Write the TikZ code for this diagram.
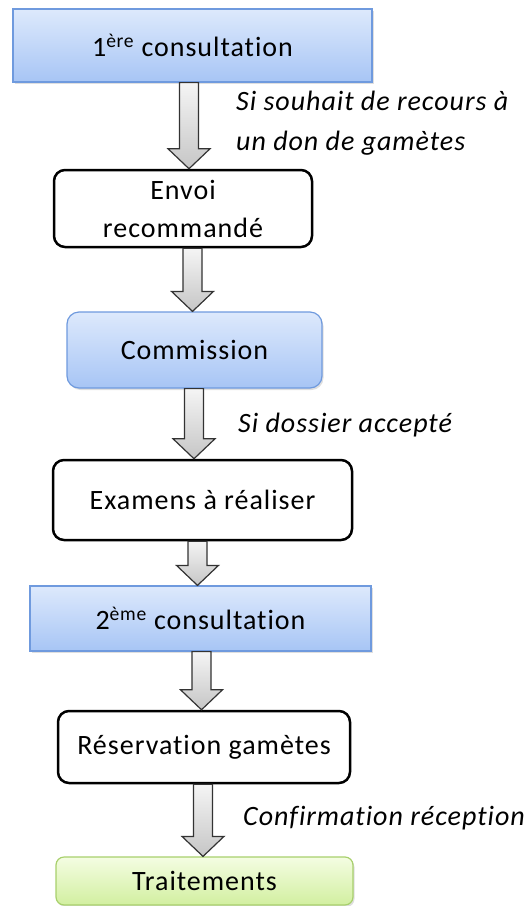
\documentclass[tikz,border=0pt]{standalone}
\usepackage{fontspec}
\setmainfont{Carlito}[Ligatures=NoCommon, LetterSpace=3.5]
\usetikzlibrary{calc,shadows}
\definecolor{bluetop}{HTML}{DDE9FC}
\definecolor{bluebot}{HTML}{A7C5F5}
\definecolor{blueedge}{HTML}{6F9ADE}
\definecolor{greentop}{HTML}{F4FDE2}
\definecolor{greenbot}{HTML}{D2EFA0}
\definecolor{greenedge}{HTML}{A8D06C}
\newcommand\garrow[3]{%
  \path[garrowstyle] let \p1=(#1.south), \p2=(#2.north) in
    (#3pt-9.5pt,\y1) -- (#3pt+9.5pt,\y1) -- (#3pt+9.5pt,\y2+20pt) -- (#3pt+21pt,\y2+20pt)
    -- (#3pt,\y2) -- (#3pt-21pt,\y2+20pt) -- (#3pt-9.5pt,\y2+20pt) -- cycle;}
\tikzset{
  every node/.style={font=\fontsize{28}{38}\selectfont, inner sep=0pt, align=center},
  shad/.style={drop shadow={opacity=0.25, shadow xshift=1.5pt, shadow yshift=-2pt}},
  bluebox/.style={draw=blueedge, line width=1.2pt, top color=bluetop, bottom color=bluebot, shad},
  greenbox/.style={draw=greenedge, line width=1.2pt, top color=greentop, bottom color=greenbot, rounded corners=8pt, shad},
  blackbox/.style={draw=black, line width=2.5pt, fill=white, rounded corners=11pt},
  lbl/.style={anchor=west, align=left, font=\fontsize{28}{40}\selectfont\itshape},
  garrowstyle/.style={draw=black!80, line width=1.2pt, top color=gray!8, bottom color=gray!45, line join=miter}
}
\begin{document}
\begin{tikzpicture}
\useasboundingbox (0,0) rectangle (532pt,-906pt);
\node[bluebox, minimum width=359pt, minimum height=73pt] (c1) at (192.5pt,-45.5pt) {1\textsuperscript{ère} consultation};
\node[blackbox, minimum width=258pt, minimum height=77pt] (env) at (183pt,-208.5pt) {Envoi\\recommandé};
\node[bluebox, rounded corners=12pt, minimum width=255pt, minimum height=76pt] (com) at (194.5pt,-350pt) {Commission};
\node[blackbox, minimum width=299pt, minimum height=80pt] (exa) at (202.5pt,-500pt) {Examens à réaliser};
\node[bluebox, minimum width=341pt, minimum height=65pt] (c2) at (200.5pt,-618.5pt) {2\textsuperscript{ème} consultation};
\node[blackbox, minimum width=292pt, minimum height=72pt] (res) at (204pt,-747pt) {Réservation gamètes};
\node[greenbox, minimum width=297pt, minimum height=48pt] (tra) at (204.5pt,-881pt) {Traitements};
\node[lbl] (l1) at (236pt,-123pt) {Si souhait de recours à\\un don de gamètes};
\node[lbl] (l2) at (238pt,-425pt) {Si dossier accepté};
\node[lbl] (l3) at (243pt,-818pt) {Confirmation réception};
\garrow{c1}{env}{189}
\garrow{env}{com}{192.5}
\garrow{com}{exa}{194}
\garrow{exa}{c2}{197.5}
\garrow{c2}{res}{201.5}
\garrow{res}{tra}{203}
\end{tikzpicture}
\end{document}
